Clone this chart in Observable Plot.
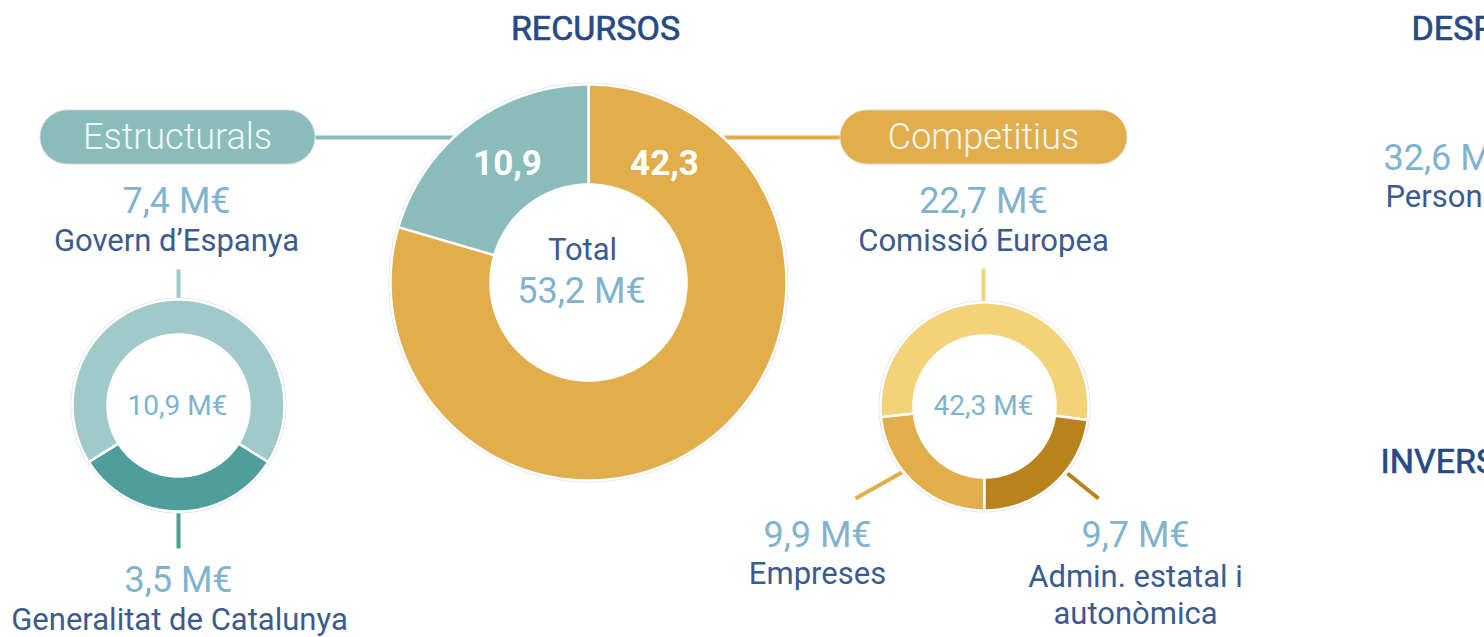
<!DOCTYPE html>
<html>
<head>
<meta charset="utf-8">
<script src="https://cdn.jsdelivr.net/npm/d3@7"></script>
<script src="https://cdn.jsdelivr.net/npm/@observablehq/plot@0.6"></script>
<style>
  html, body { margin: 0; padding: 0; background: #fff; overflow: hidden; }
  #chart svg { display: block; }
</style>
</head>
<body>
<div id="chart"></div>
<script>
// ---------- DATA ----------
const titles = ["RECURSOS", "DESPESES", "INVERSIONS"];
const mainCats = ["Estructurals", "Competitius"];
const mainVals = [10.9, 42.3];
const totalLabel = "Total";
const totalVal = 53.2;
const estructCats = ["Govern d\u2019Espanya", "Generalitat de Catalunya"];
const estructVals = [7.4, 3.5];
const competCats = ["Comissió Europea", "Empreses", "Admin. estatal i\nautonòmica"];
const competVals = [22.7, 9.9, 9.7];
const despCats = ["Personal"];
const despVals = [32.6];

// ---------- STYLE / LAYOUT ----------
const W = 1484, H = 637;
const C = {
  teal: "#8bbcbc", tealLight: "#9fcac9", tealDark: "#4f9e9c",
  gold: "#e1ae4b", goldLight: "#f3d27a", goldDark: "#b8821c",
  title: "#284a84", label: "#3b5b8f", value: "#80b3cd", pillText: "#f1f7f6"
};
const FONT = "Roboto, 'Noto Sans', sans-serif";
const fmt = v => v.toFixed(1).replace(".", ",");
const meur = v => fmt(v) + " M\u20ac";
const SV = 36, SL = 31;

const donuts = [
  {key: "main", cx: 588, cy: 282, R: 198, r: 98, vals: mainVals, colors: [C.teal, C.gold], order: [1, 0], start: () => 0},
  {key: "estr", cx: 178, cy: 405, R: 106, r: 71, vals: estructVals, colors: [C.tealLight, C.tealDark], order: [1, 0],
    start: (spans) => 180 - spans[1] / 2},
  {key: "comp", cx: 984, cy: 406, R: 104, r: 71, vals: competVals, colors: [C.goldLight, C.gold, C.goldDark], order: [1, 0, 2],
    start: () => 180}
];

// Build arc polygons from values
const rad = a => a * Math.PI / 180;
const arcPts = [];
for (const d of donuts) {
  const tot = d3.sum(d.vals);
  const spans = d.vals.map(v => v / tot * 360);
  let a = d.start(spans);
  for (const i of d.order) {
    const a0 = a, a1 = a + spans[i];
    const n = Math.max(8, Math.ceil(spans[i] / 0.75));
    const key = d.key + i;
    for (let k = 0; k <= n; k++) {
      const t = rad(a0 + (a1 - a0) * k / n);
      arcPts.push({key, color: d.colors[i], x: d.cx + d.R * Math.sin(t), y: d.cy - d.R * Math.cos(t)});
    }
    for (let k = n; k >= 0; k--) {
      const t = rad(a0 + (a1 - a0) * k / n);
      arcPts.push({key, color: d.colors[i], x: d.cx + d.r * Math.sin(t), y: d.cy - d.r * Math.cos(t)});
    }
    a = a1;
  }
}

const main = donuts[0], estr = donuts[1], comp = donuts[2];
const pillY = 137, pillH = 54;
const pills = [
  {x1: 40, x2: 315, color: C.teal, text: mainCats[0], cx: 177},
  {x1: 840, x2: 1127, color: C.gold, text: mainCats[1], cx: 983}
];
const edgeX = dir => main.cx + dir * Math.sqrt(main.R * main.R - (pillY - main.cy) ** 2);

const links = [
  {x1: pills[0].x2, y1: pillY, x2: edgeX(-1), y2: pillY, c: C.teal},
  {x1: edgeX(1), y1: pillY, x2: pills[1].x1, y2: pillY, c: C.gold},
  {x1: estr.cx, y1: 269, x2: estr.cx, y2: estr.cy - estr.R, c: C.tealLight},
  {x1: estr.cx, y1: estr.cy + estr.R, x2: estr.cx, y2: 548, c: C.tealDark},
  {x1: comp.cx - 1, y1: 268, x2: comp.cx - 1, y2: comp.cy - comp.R, c: C.goldLight},
  {x1: 903, y1: 471, x2: 855, y2: 498, c: C.gold},
  {x1: 1067, y1: 473, x2: 1098, y2: 498, c: C.goldDark}
];

const texts = [
  {x: 595, y: 29, t: titles[0], s: 34, c: C.title, w: 400, sw: 0.7},
  {x: 1411, y: 29, t: titles[1], s: 34, c: C.title, w: 400, a: "start", sw: 0.7},
  {x: 1380, y: 462, t: titles[2], s: 34, c: C.title, w: 400, a: "start", sw: 0.7},
  {x: 1383, y: 158, t: meur(despVals[0]), s: SV, c: C.value, w: 400, a: "start"},
  {x: 1385, y: 197, t: despCats[0], s: SL, c: C.label, w: 400, a: "start"},
  {x: 507, y: 163, t: fmt(mainVals[0]), s: 35, c: "#ffffff", w: 700},
  {x: 664, y: 163, t: fmt(mainVals[1]), s: 35, c: "#ffffff", w: 700},
  {x: 582, y: 250, t: totalLabel, s: 31, c: C.label, w: 400},
  {x: 581, y: 291, t: meur(totalVal), s: 36, c: C.value, w: 400},
  {x: 176, y: 201, t: meur(estructVals[0]), s: SV, c: C.value, w: 400},
  {x: 176, y: 241, t: estructCats[0], s: SL, c: C.label, w: 400},
  {x: 177, y: 406, t: meur(d3.sum(estructVals)), s: 28, c: C.value, w: 400},
  {x: 178, y: 580, t: meur(estructVals[1]), s: SV, c: C.value, w: 400},
  {x: 179, y: 620, t: estructCats[1], s: SL, c: C.label, w: 400},
  {x: 983, y: 201, t: meur(competVals[0]), s: SV, c: C.value, w: 400},
  {x: 983, y: 241, t: competCats[0], s: SL, c: C.label, w: 400},
  {x: 983, y: 406, t: meur(d3.sum(competVals)), s: 28, c: C.value, w: 400},
  {x: 817, y: 535, t: meur(competVals[1]), s: SV, c: C.value, w: 400},
  {x: 817, y: 574, t: competCats[1], s: SL, c: C.label, w: 400},
  {x: 1135, y: 535, t: meur(competVals[2]), s: SV, c: C.value, w: 400},
  {x: 1135, y: 593, t: competCats[2], s: SL, c: C.label, w: 400, lh: 1.2}
];

const textMarks = texts.map(d => Plot.text([d], {
  x: "x", y: "y", text: "t", fontSize: d.s, fill: d.c, fontWeight: d.w,
  textAnchor: d.a || "middle", fontFamily: FONT, lineHeight: d.lh || 1,
  stroke: d.sw ? d.c : undefined, strokeWidth: d.sw || undefined
}));

const ringMarks = donuts.map(d => Plot.dot([d], {x: "cx", y: "cy", r: d.R + 1.5, stroke: "#dcdcdc", strokeWidth: 1, fill: "white"}));

const chart = Plot.plot({
  width: W, height: H, margin: 0,
  x: {domain: [0, W], range: [0, W], axis: null},
  y: {domain: [0, H], range: [0, H], axis: null},
  color: {type: "identity"},
  style: {fontFamily: FONT, background: "#fff"},
  marks: [
    Plot.link(links, {x1: "x1", y1: "y1", x2: "x2", y2: "y2", stroke: "c", strokeWidth: 4}),
    Plot.rect(pills, {x1: "x1", x2: "x2", y1: () => pillY - pillH / 2, y2: () => pillY + pillH / 2,
      fill: "color", rx: pillH / 2, stroke: "#d8d8d8", strokeWidth: 0.8}),
    Plot.text(pills, {x: "cx", y: () => pillY, text: "text", fill: C.pillText, fontSize: 36, fontWeight: 300, fontFamily: FONT}),
    ...ringMarks,
    Plot.line(arcPts, {x: "x", y: "y", z: "key", fill: "color", stroke: "white", strokeWidth: 2.5, curve: "linear-closed"}),
    ...textMarks
  ]
});
document.getElementById("chart").appendChild(chart);
</script>
</body>
</html>
